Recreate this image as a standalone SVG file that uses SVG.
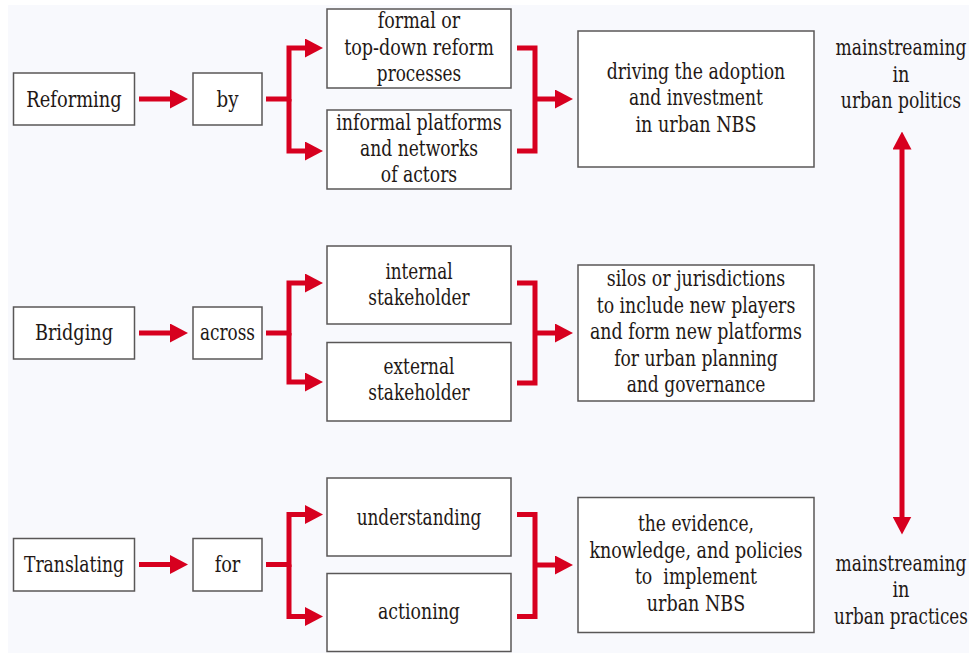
<svg xmlns="http://www.w3.org/2000/svg" width="969" height="653" viewBox="0 0 969 653" font-family="'DejaVu Serif', serif">
  <defs>
    <marker id="ah" markerUnits="userSpaceOnUse" markerWidth="18" markerHeight="19" viewBox="0 0 18 19" refX="8" refY="9.5" orient="auto-start-reverse">
      <path d="M0,0 L18,9.5 L0,19 Z" fill="#d7001f"/>
    </marker>
    <style>
      .box { fill: #ffffff; stroke: #595757; stroke-width: 1.5; }
      .t { font-family: 'DejaVu Serif', 'Liberation Serif', serif; font-size: 22px; fill: #231815; text-anchor: middle; white-space: pre; }
      .c { fill: none; stroke: #d7001f; stroke-width: 5; stroke-linejoin: miter; }
      .a { marker-end: url(#ah); }
    </style>
  </defs>

  <rect x="0" y="0" width="969" height="653" fill="#ffffff"/>
  <rect x="8" y="5" width="961" height="648" fill="#f8f9fd"/>

  <g id="connectors">
    <path class="c a" d="M139,99 H178"/>
    <path class="c a" d="M266,99 H289 V48 H313"/>
    <path class="c a" d="M289,99 V151 H313"/>
    <path class="c" d="M517,48 H535 V151 H517"/>
    <path class="c a" d="M535,99 H563"/>
    <path class="c a" d="M139,333 H178"/>
    <path class="c a" d="M266,333 H289 V283 H313"/>
    <path class="c a" d="M289,333 V382 H313"/>
    <path class="c" d="M517,283 H535 V383 H517"/>
    <path class="c a" d="M535,333 H563"/>
    <path class="c a" d="M139,564.5 H178"/>
    <path class="c a" d="M266,564.5 H289 V514.5 H313"/>
    <path class="c a" d="M289,564.5 V616.5 H313"/>
    <path class="c" d="M517,514.5 H535 V616.5 H517"/>
    <path class="c a" d="M535,565 H563"/>
    <path class="c" d="M902,141.5 V524.5" marker-start="url(#ah)" marker-end="url(#ah)"/>
  </g>

  <g id="reforming">
    <rect class="box" x="13.5" y="73" width="121" height="52"/>
    <text class="t" x="74" y="106.5" textLength="95.3" lengthAdjust="spacingAndGlyphs">Reforming</text>
  </g>
  <g id="by">
    <rect class="box" x="193" y="73" width="69" height="52"/>
    <text class="t" x="227.5" y="106.5" textLength="22" lengthAdjust="spacingAndGlyphs">by</text>
  </g>
  <g id="formal">
    <rect class="box" x="327" y="9" width="184" height="79"/>
    <text class="t" x="419" y="28" textLength="82.5" lengthAdjust="spacingAndGlyphs">formal or</text>
    <text class="t" x="419" y="54.5" textLength="149.7" lengthAdjust="spacingAndGlyphs">top-down reform</text>
    <text class="t" x="419" y="81" textLength="84.3" lengthAdjust="spacingAndGlyphs">processes</text>
  </g>
  <g id="informal">
    <rect class="box" x="327" y="110" width="184" height="79"/>
    <text class="t" x="419" y="129.5" textLength="165.6" lengthAdjust="spacingAndGlyphs">informal platforms</text>
    <text class="t" x="419" y="156" textLength="117.9" lengthAdjust="spacingAndGlyphs">and networks</text>
    <text class="t" x="419" y="182" textLength="76.4" lengthAdjust="spacingAndGlyphs">of actors</text>
  </g>
  <g id="driving">
    <rect class="box" x="578" y="31" width="236" height="136"/>
    <text class="t" x="696" y="78.5" textLength="178.4" lengthAdjust="spacingAndGlyphs">driving the adoption</text>
    <text class="t" x="696" y="105" textLength="133.8" lengthAdjust="spacingAndGlyphs">and investment</text>
    <text class="t" x="696" y="131.5" textLength="121" lengthAdjust="spacingAndGlyphs">in urban NBS</text>
  </g>

  <g id="bridging">
    <rect class="box" x="13.5" y="307" width="121" height="52"/>
    <text class="t" x="74" y="340" textLength="78.2" lengthAdjust="spacingAndGlyphs">Bridging</text>
  </g>
  <g id="across">
    <rect class="box" x="193" y="307" width="69" height="52"/>
    <text class="t" x="227.5" y="340" textLength="55" lengthAdjust="spacingAndGlyphs">across</text>
  </g>
  <g id="internal">
    <rect class="box" x="327" y="246" width="184" height="78"/>
    <text class="t" x="419" y="278.5" textLength="67.2" lengthAdjust="spacingAndGlyphs">internal</text>
    <text class="t" x="419" y="304.5" textLength="101.4" lengthAdjust="spacingAndGlyphs">stakeholder</text>
  </g>
  <g id="external">
    <rect class="box" x="327" y="342.5" width="184" height="78.5"/>
    <text class="t" x="419" y="373.5" textLength="70.9" lengthAdjust="spacingAndGlyphs">external</text>
    <text class="t" x="419" y="400" textLength="101.4" lengthAdjust="spacingAndGlyphs">stakeholder</text>
  </g>
  <g id="silos">
    <rect class="box" x="578" y="265" width="236" height="136"/>
    <text class="t" x="696" y="286" textLength="178.5" lengthAdjust="spacingAndGlyphs">silos or jurisdictions</text>
    <text class="t" x="696" y="312.5" textLength="198.6" lengthAdjust="spacingAndGlyphs">to include new players</text>
    <text class="t" x="696" y="339" textLength="212" lengthAdjust="spacingAndGlyphs">and form new platforms</text>
    <text class="t" x="696" y="365.5" textLength="163.7" lengthAdjust="spacingAndGlyphs">for urban planning</text>
    <text class="t" x="696" y="392" textLength="138.7" lengthAdjust="spacingAndGlyphs">and governance</text>
  </g>

  <g id="translating">
    <rect class="box" x="13.5" y="538.5" width="121" height="52.5"/>
    <text class="t" x="74" y="571.5" textLength="100.2" lengthAdjust="spacingAndGlyphs">Translating</text>
  </g>
  <g id="for">
    <rect class="box" x="193" y="538.5" width="69" height="52.5"/>
    <text class="t" x="227.5" y="571.5" textLength="25.7" lengthAdjust="spacingAndGlyphs">for</text>
  </g>
  <g id="understanding">
    <rect class="box" x="327" y="478" width="184" height="78"/>
    <text class="t" x="419" y="525" textLength="124.7" lengthAdjust="spacingAndGlyphs">understanding</text>
  </g>
  <g id="actioning">
    <rect class="box" x="327" y="573.5" width="184" height="78"/>
    <text class="t" x="419" y="619" textLength="81.9" lengthAdjust="spacingAndGlyphs">actioning</text>
  </g>
  <g id="evidence">
    <rect class="box" x="578" y="497.5" width="236" height="135"/>
    <text class="t" x="696" y="531" textLength="116.1" lengthAdjust="spacingAndGlyphs">the evidence,</text>
    <text class="t" x="696" y="557.5" textLength="213.2" lengthAdjust="spacingAndGlyphs">knowledge, and policies</text>
    <text class="t" x="696" y="584" textLength="122.2" lengthAdjust="spacingAndGlyphs">to  implement</text>
    <text class="t" x="696" y="610.5" textLength="98.4" lengthAdjust="spacingAndGlyphs">urban NBS</text>
  </g>

  <g id="mainstreaming-politics">
    <text class="t" x="901" y="55" textLength="130.8" lengthAdjust="spacingAndGlyphs">mainstreaming</text>
    <text class="t" x="901" y="81.5" textLength="17.1" lengthAdjust="spacingAndGlyphs">in</text>
    <text class="t" x="901" y="108" textLength="120.4" lengthAdjust="spacingAndGlyphs">urban politics</text>
  </g>
  <g id="mainstreaming-practices">
    <text class="t" x="901" y="570.5" textLength="130.8" lengthAdjust="spacingAndGlyphs">mainstreaming</text>
    <text class="t" x="901" y="597" textLength="17.1" lengthAdjust="spacingAndGlyphs">in</text>
    <text class="t" x="901" y="623.5" textLength="133.8" lengthAdjust="spacingAndGlyphs">urban practices</text>
  </g>
</svg>
